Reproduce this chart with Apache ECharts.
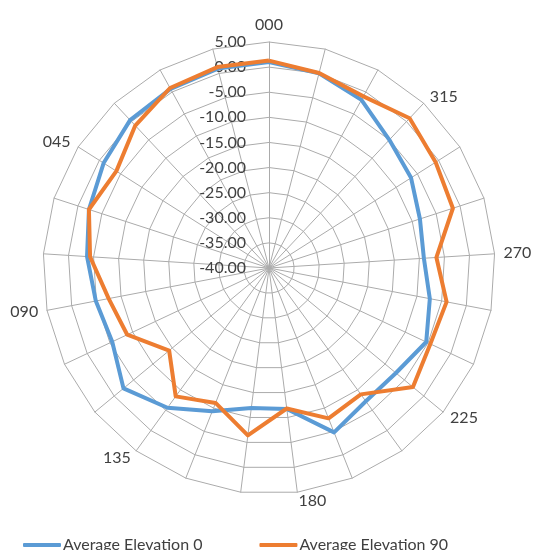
<!DOCTYPE html>
<html>
<head>
<meta charset="utf-8">
<script src="https://cdn.jsdelivr.net/npm/echarts@6/dist/echarts.min.js"></script>
<style>html,body{margin:0;padding:0;background:#fff}#c{width:538px;height:550px}</style>
</head>
<body>
<div id="c"></div>
<script>
// Spokes listed clockwise from the top (25 spokes); blank = unlabeled spoke
var categories = ['000','','','315','','','270','','','225','','','180','','','135','','','090','','','045','','',''];
var seriesNames = ['Average Elevation 0', 'Average Elevation 90'];
var elev0  = [1.0, 0.0, -1.8, -5.0, -6.5, -8.4, -9.1, -7.4, -5.4, -7.2, -7.2, -4.8, -11.7, -11.9, -9.3, -5.6, -2.4, -5.5, -4.9, -3.7, -2.3, -1.0, 0.4, 0.7, 1.0];
var elev90 = [1.3, 0.1, -1.0, 0.9, -0.7, -1.5, -6.6, -4.0, -4.5, -2.8, -8.9, -7.8, -11.8, -6.4, -11.1, -8.4, -14.2, -8.8, -7.5, -4.3, -2.3, -4.0, -1.1, 0.9, 1.3];
var radialMin = -40, radialMax = 5, radialStep = 5;

// ECharts places radar indicators counter-clockwise; reorder so they run clockwise
function cw(arr) { var out = [arr[0]]; for (var i = arr.length - 1; i >= 1; i--) out.push(arr[i]); return out; }

var indicators = cw(categories).map(function (name, i) {
  return { name: name, min: radialMin, max: radialMax, axisLabel: { show: i === 0 } };
});

var FONT = 'Lato';
var chart = echarts.init(document.getElementById('c'));
chart.setOption({
  animation: false,
  color: ['#5B9BD5', '#ED7D31'],
  legend: {
    bottom: -8,
    left: 18,
    icon: 'roundRect',
    itemWidth: 38,
    itemHeight: 4,
    itemGap: 57,
    textStyle: { fontFamily: FONT, fontSize: 16, color: '#404040', padding: [0, 0, 0, -3] },
    data: seriesNames
  },
  radar: {
    center: [269, 268],
    radius: 226,
    startAngle: 90,
    shape: 'polygon',
    splitNumber: (radialMax - radialMin) / radialStep,
    indicator: indicators,
    axisName: { fontFamily: FONT, fontSize: 16, color: '#404040' },
    nameGap: 9,
    axisLine: { lineStyle: { color: '#ababab', width: 1 } },
    splitLine: { lineStyle: { color: '#ababab', width: 1 } },
    splitArea: { show: false },
    axisTick: { show: false },
    axisLabel: {
      show: true,
      fontFamily: FONT,
      fontSize: 16,
      color: '#404040',
      align: 'right',
      margin: 23,
      formatter: function (v) { return Number(v).toFixed(2); },
      showMinLabel: true,
      showMaxLabel: true
    }
  },
  series: [{
    type: 'radar',
    symbol: 'none',
    data: [
      { name: seriesNames[0], value: cw(elev0), lineStyle: { width: 4, color: '#5B9BD5', join: 'round' } },
      { name: seriesNames[1], value: cw(elev90), lineStyle: { width: 4, color: '#ED7D31', join: 'round' } }
    ]
  }]
});
</script>
</body>
</html>
